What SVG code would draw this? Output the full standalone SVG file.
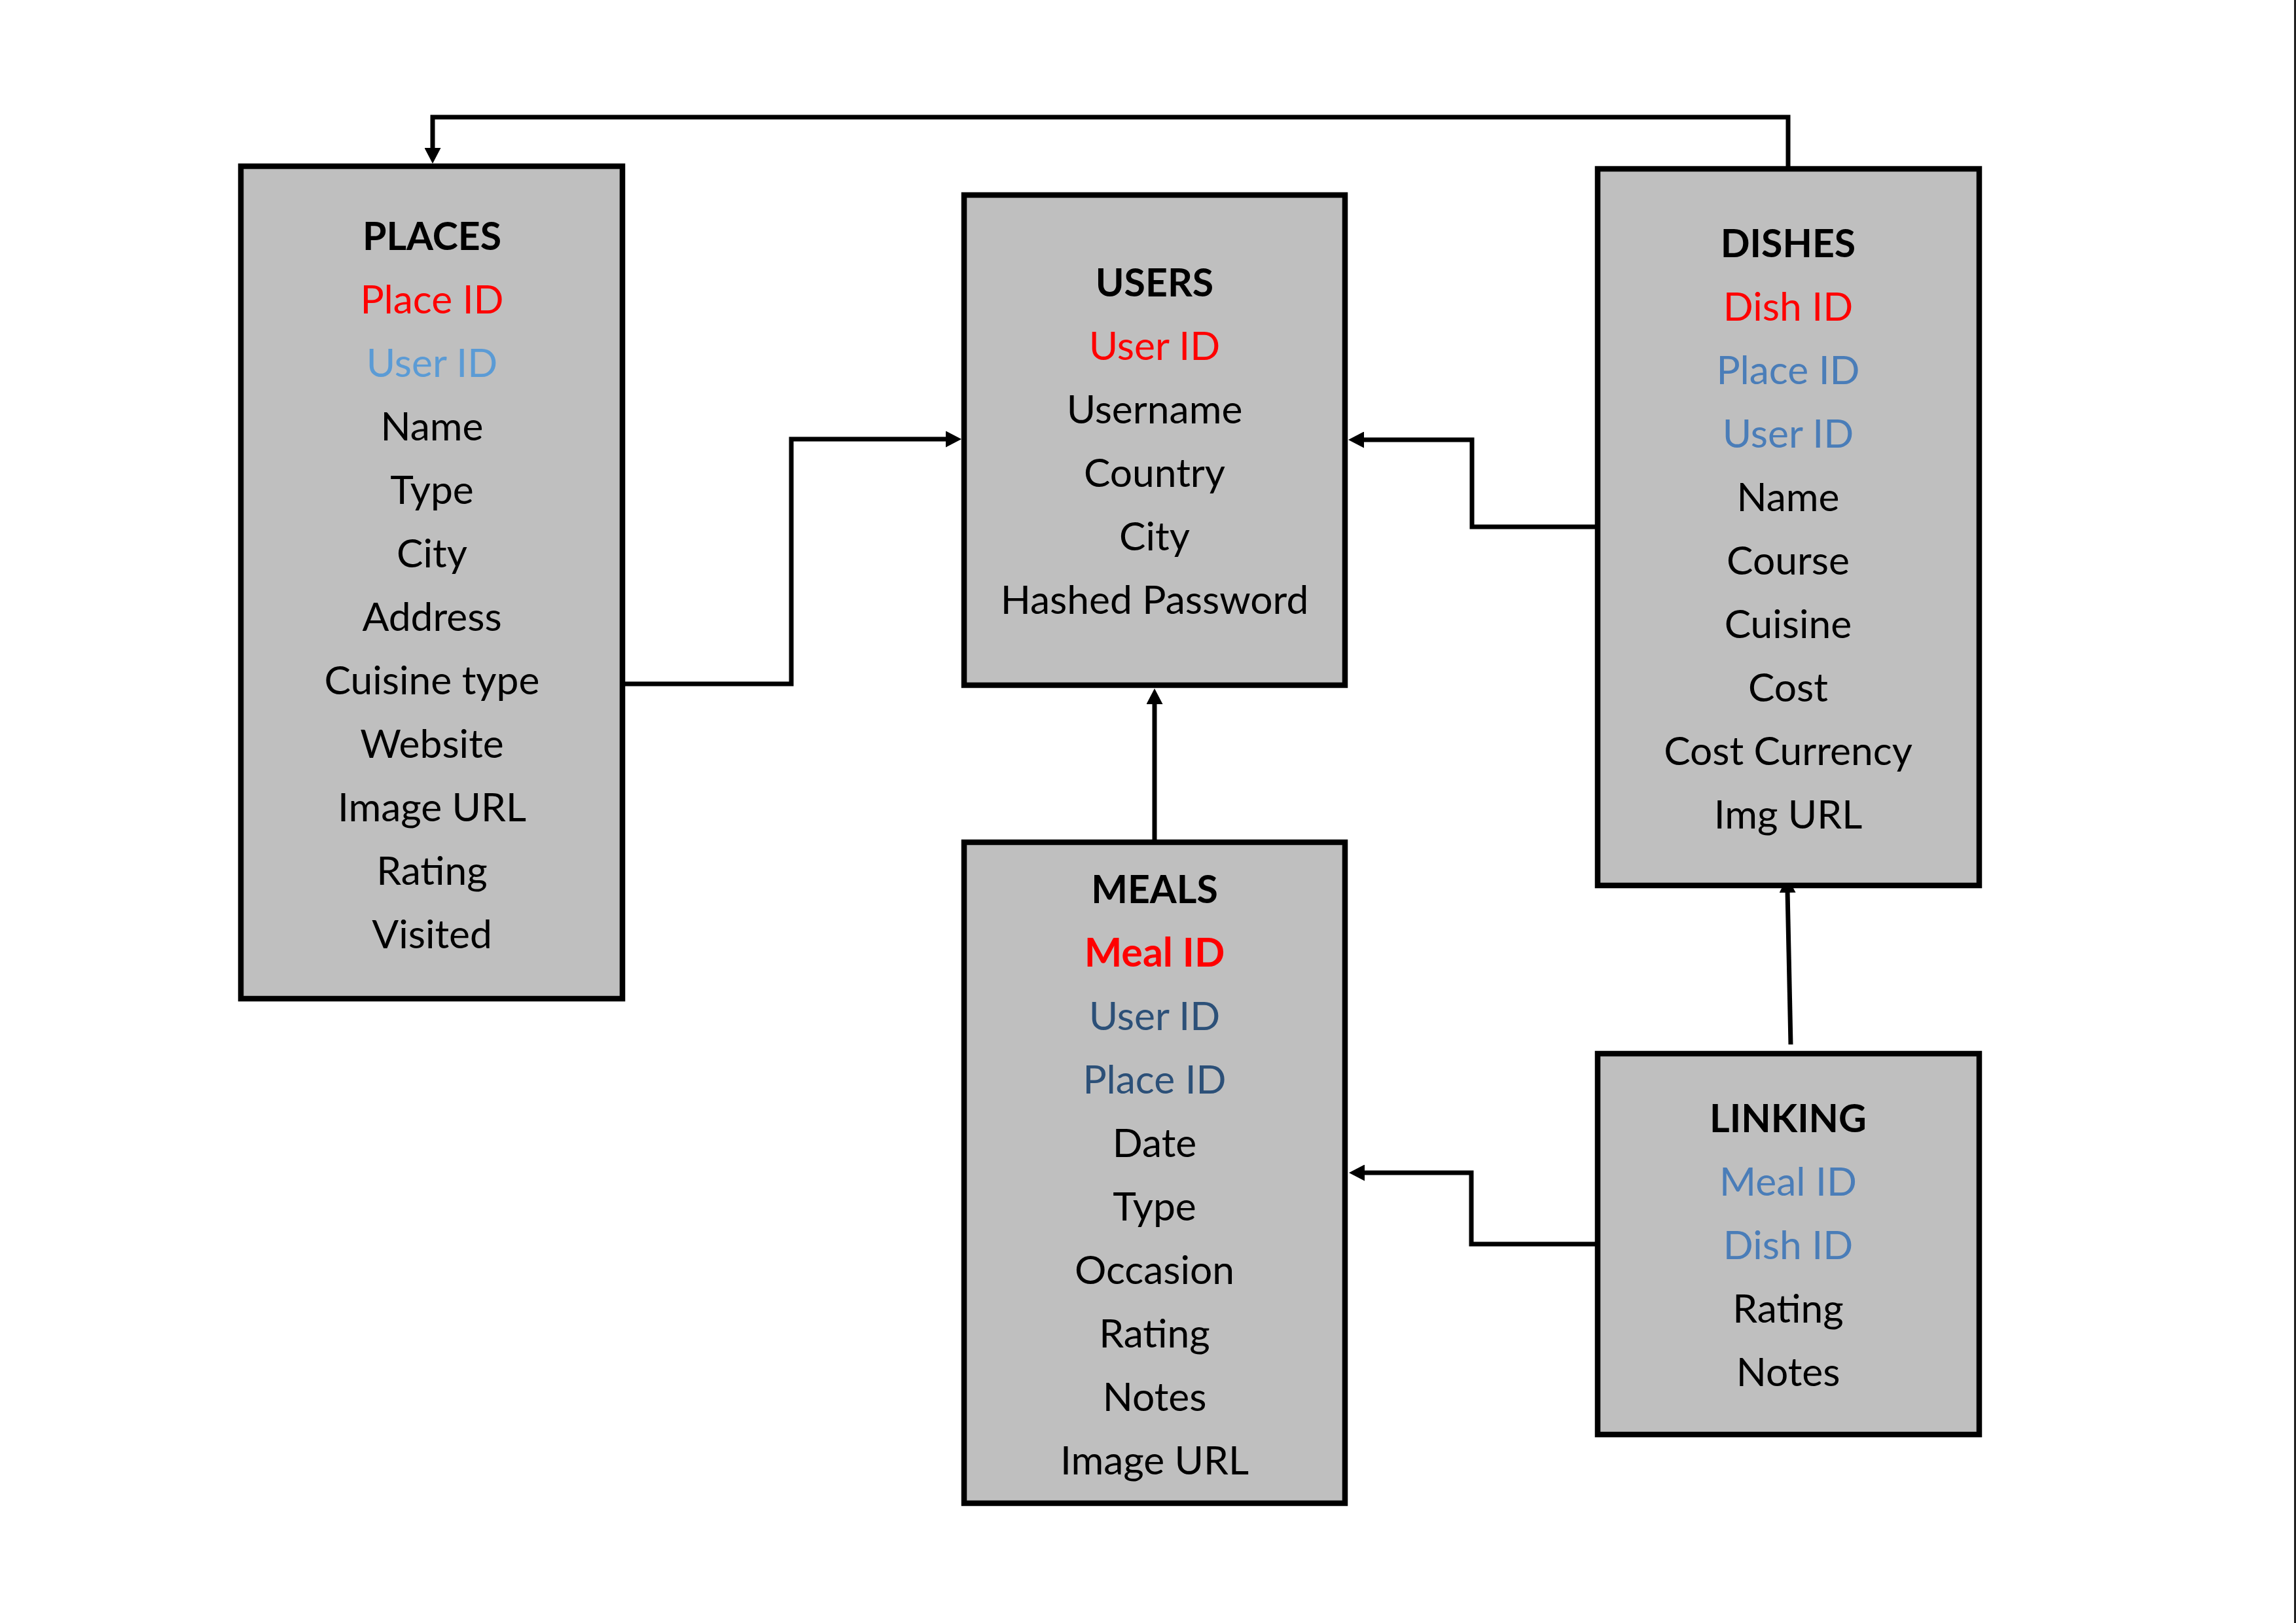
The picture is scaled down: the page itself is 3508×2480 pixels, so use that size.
<svg xmlns="http://www.w3.org/2000/svg" width="3508" height="2480" viewBox="0 0 3508 2480">
<style>
.box{fill:#BFBFBF;stroke:#000;stroke-width:8.5}
.t{font-family:Lato,"Open Sans","Liberation Sans",sans-serif;font-size:60.5px;text-anchor:middle;fill:#000}
.h{font-weight:bold;font-size:59px}
.pk{fill:#FF0000}
.fk1{fill:#5B9BD5}
.fk2{fill:#4A7DB8}
.fk3{fill:#2C5078}
.c{fill:none;stroke:#000;stroke-width:7;stroke-linejoin:miter}
</style>
<defs>
<marker id="ah" markerUnits="userSpaceOnUse" markerWidth="24" markerHeight="25" refX="4" refY="12.5" orient="auto" viewBox="0 0 24 25">
<path d="M0,0 L24,12.5 L0,25 z" fill="#000"/>
</marker>
</defs>
<rect x="0" y="0" width="3508" height="2480" fill="#FFFFFF"/>
<rect x="3505" y="0" width="3" height="2480" fill="#222"/>

<g id="connectors">
<path class="c" d="M951,1045 H1209 V671 H1449" marker-end="url(#ah)"/>
<path class="c" d="M2441,805 H2249 V672 H2080" marker-end="url(#ah)"/>
<path class="c" d="M2732,254 V179 H661 V230" marker-end="url(#ah)"/>
<path class="c" d="M1764,1283 V1072" marker-end="url(#ah)"/>
<path class="c" d="M2736,1596 L2731,1360" marker-end="url(#ah)"/>
<path class="c" d="M2441,1901 H2248 V1792 H2081" marker-end="url(#ah)"/>
</g>

<g id="places">
<rect class="box" x="368" y="254" width="583" height="1272"/>
<text class="t h" x="660" y="382">PLACES</text>
<text class="t pk" x="660" y="479">Place ID</text>
<text class="t fk1" x="660" y="576">User ID</text>
<text class="t" x="660" y="673">Name</text>
<text class="t" x="660" y="770">Type</text>
<text class="t" x="660" y="867">City</text>
<text class="t" x="660" y="964">Address</text>
<text class="t" x="660" y="1061">Cuisine type</text>
<text class="t" x="660" y="1158">Website</text>
<text class="t" x="660" y="1255">Image URL</text>
<text class="t" x="660" y="1352">Rating</text>
<text class="t" x="660" y="1449">Visited</text>
</g>

<g id="users">
<rect class="box" x="1473" y="298" width="582" height="749"/>
<text class="t h" x="1764" y="453">USERS</text>
<text class="t pk" x="1764" y="550">User ID</text>
<text class="t" x="1764" y="647">Username</text>
<text class="t" x="1764" y="744">Country</text>
<text class="t" x="1764" y="841">City</text>
<text class="t" x="1764" y="938">Hashed Password</text>
</g>

<g id="dishes">
<rect class="box" x="2441" y="258" width="583" height="1095"/>
<text class="t h" x="2732" y="393">DISHES</text>
<text class="t pk" x="2732" y="490">Dish ID</text>
<text class="t fk2" x="2732" y="587">Place ID</text>
<text class="t fk2" x="2732" y="684">User ID</text>
<text class="t" x="2732" y="781">Name</text>
<text class="t" x="2732" y="878">Course</text>
<text class="t" x="2732" y="975">Cuisine</text>
<text class="t" x="2732" y="1072">Cost</text>
<text class="t" x="2732" y="1169">Cost Currency</text>
<text class="t" x="2732" y="1266">Img URL</text>
</g>

<g id="meals">
<rect class="box" x="1473" y="1287" width="582" height="1010"/>
<text class="t h" x="1764" y="1380">MEALS</text>
<text class="t h pk" x="1764" y="1477" style="font-size:61px">Meal ID</text>
<text class="t fk3" x="1764" y="1574">User ID</text>
<text class="t fk3" x="1764" y="1671">Place ID</text>
<text class="t" x="1764" y="1768">Date</text>
<text class="t" x="1764" y="1865">Type</text>
<text class="t" x="1764" y="1962">Occasion</text>
<text class="t" x="1764" y="2059">Rating</text>
<text class="t" x="1764" y="2156">Notes</text>
<text class="t" x="1764" y="2253">Image URL</text>
</g>

<g id="linking">
<rect class="box" x="2441" y="1610" width="583" height="582"/>
<text class="t h" x="2732" y="1730">LINKING</text>
<text class="t fk2" x="2732" y="1827">Meal ID</text>
<text class="t fk2" x="2732" y="1924">Dish ID</text>
<text class="t" x="2732" y="2021">Rating</text>
<text class="t" x="2732" y="2118">Notes</text>
</g>
</svg>
